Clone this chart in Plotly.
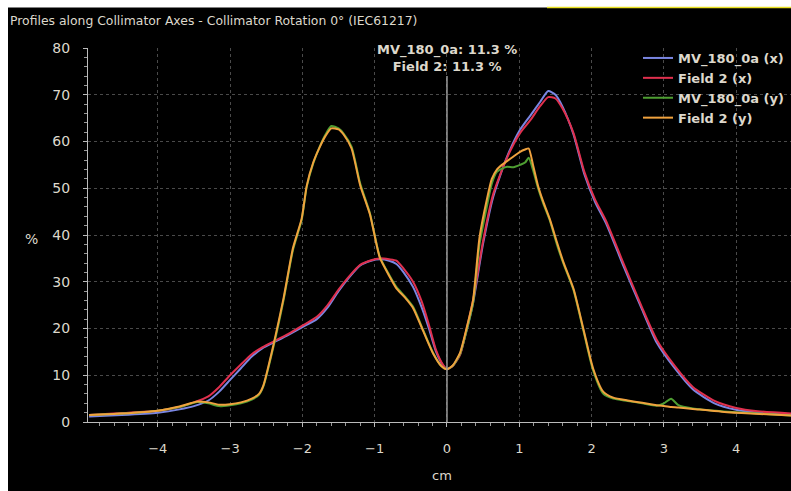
import plotly.graph_objects as go

# ---- data ----
x_mv_x = [-4.95, -4.5, -4.0, -3.7, -3.5, -3.3, -3.15, -3.0, -2.85, -2.7, -2.55, -2.4, -2.2, -2.0, -1.8,
          -1.65, -1.5, -1.35, -1.2, -1.05, -0.93, -0.8, -0.7, -0.6, -0.47, -0.35, -0.25, -0.15, -0.05, 0.0,
          0.08, 0.18, 0.27, 0.36, 0.5, 0.64, 0.83, 1.01, 1.15, 1.29, 1.4, 1.5, 1.6, 1.75, 1.9, 2.05, 2.2,
          2.45, 2.7, 2.9, 3.15, 3.4, 3.7, 4.0, 4.3, 4.76]
y_mv_x = [1.2, 1.5, 2.0, 2.7, 3.4, 4.6, 6.5, 9.0, 11.5, 14.0, 15.8, 17.0, 18.6, 20.3, 22.0,
          24.5, 28.0, 31.0, 33.5, 34.5, 34.8, 34.5, 33.8, 32.0, 28.9, 24.5, 20.0, 15.0, 12.0, 11.3,
          12.0, 14.5, 19.5, 25.4, 38.2, 48.2, 56.7, 62.5, 65.5, 68.5, 70.8, 70.0, 67.4, 61.5, 53.0, 47.0, 42.5,
          33.0, 24.0, 17.0, 11.5, 7.0, 4.0, 2.6, 2.0, 1.6]

x_f2_x = x_mv_x
y_f2_x = [1.5, 1.9, 2.4, 3.2, 4.2, 5.5, 7.5, 10.0, 12.3, 14.5, 16.0, 17.2, 18.8, 20.6, 22.5,
          25.0, 28.3, 31.2, 33.6, 34.6, 35.0, 34.8, 34.5, 32.8, 30.0, 25.8, 20.8, 15.3, 12.1, 11.3,
          12.0, 14.3, 19.8, 26.0, 38.8, 48.8, 56.5, 61.8, 64.5, 67.6, 69.5, 69.2, 67.0, 61.8, 53.5, 47.5, 43.0,
          33.6, 24.4, 17.6, 12.0, 7.5, 4.5, 3.0, 2.3, 1.8]

x_mv_y = [-4.95, -4.5, -4.0, -3.7, -3.45, -3.3, -3.15, -3.0, -2.85, -2.7, -2.6, -2.54, -2.4, -2.26, -2.13,
          -2.01, -1.94, -1.85, -1.76, -1.68, -1.6, -1.5, -1.43, -1.32, -1.2, -1.065, -0.93, -0.8, -0.7,
          -0.58, -0.47, -0.33, -0.19, -0.08, 0.0, 0.08, 0.18, 0.27, 0.36, 0.45, 0.55, 0.62, 0.69, 0.76,
          0.83, 0.92, 1.01, 1.08, 1.13, 1.19, 1.26, 1.33, 1.42, 1.52, 1.61, 1.75, 1.885, 2.02, 2.16,
          2.3, 2.5, 2.7, 2.9, 3.0, 3.1, 3.2, 3.4, 3.8, 4.2, 4.76]
y_mv_y = [1.5, 1.8, 2.4, 3.2, 4.3, 4.0, 3.4, 3.6, 4.0, 4.8, 5.8, 7.6, 16.1, 26.1, 36.8,
          43.2, 50.3, 55.3, 58.9, 61.5, 63.3, 62.8, 61.7, 58.9, 51.0, 44.6, 35.4, 31.5, 28.9,
          26.8, 24.7, 19.7, 14.7, 12.0, 11.3, 12.0, 14.5, 19.5, 25.4, 38.0, 46.0, 51.0, 53.5, 54.2,
          54.6, 54.5, 55.0, 55.5, 56.5, 53.9, 50.0, 46.8, 43.2, 38.0, 33.9, 28.2, 19.7, 11.1, 6.1,
          5.0, 4.5, 4.0, 3.5, 4.0, 5.0, 3.6, 2.9, 2.3, 1.9, 1.4]

x_f2_y = x_mv_y
y_f2_y = [1.5, 1.8, 2.4, 3.3, 4.4, 4.2, 3.7, 3.8, 4.2, 5.0, 6.0, 7.8, 16.5, 26.5, 37.2,
          43.5, 50.5, 55.5, 58.8, 61.2, 62.8, 62.6, 61.5, 58.5, 50.6, 44.4, 35.2, 31.3, 28.6,
          26.6, 24.4, 19.5, 14.6, 12.0, 11.3, 12.1, 14.8, 20.0, 26.0, 39.5, 47.5, 52.0, 54.0, 55.0,
          55.8, 56.8, 57.8, 58.3, 58.5, 55.0, 50.5, 47.2, 43.5, 38.5, 34.2, 28.5, 20.0, 11.5, 6.5,
          5.2, 4.6, 4.1, 3.6, 3.4, 3.2, 3.1, 2.8, 2.2, 1.8, 1.4]

series_names = ["MV_180_0a (x)", "Field 2 (x)", "MV_180_0a (y)", "Field 2 (y)"]
series_colors = ["#7a86e2", "#e0304e", "#4e9e32", "#f0a23e"]
x_ticks = [-4, -3, -2, -1, 0, 1, 2, 3, 4]
y_ticks = [0, 10, 20, 30, 40, 50, 60, 70, 80]
title_text = "Profiles along Collimator Axes - Collimator Rotation 0° (IEC61217)"
center_label = "MV_180_0a: 11.3 %<br>Field 2: 11.3 %"
x_label = "cm"
y_label = "%"

FONT = "DejaVu Sans"
TXT = "#ddd8cc"

fig = go.Figure()
for xs, ys, name, col in zip([x_mv_x, x_f2_x, x_mv_y, x_f2_y],
                             [y_mv_x, y_f2_x, y_mv_y, y_f2_y],
                             series_names, series_colors):
    fig.add_trace(go.Scatter(x=xs, y=ys, name=name, mode="lines",
                             line=dict(color=col, width=2, shape="spline", smoothing=0.6)))

W, H = 791, 491
L, R, T, B = 88, 0, 48, 69
pw, ph = W - L - R, H - T - B

def px(xp):
    return (xp - L) / pw

def py(yp):
    return 1 - (yp - T) / ph

x_minor = [round(-4.8 + 0.2 * i, 2) for i in range(48)]
y_minor = [2 * i for i in range(41)]

fig.update_layout(
    width=W, height=H,
    margin=dict(l=L, r=R, t=T, b=B, pad=0),
    paper_bgcolor="black", plot_bgcolor="black",
    font=dict(family=FONT, color=TXT, size=13),
    showlegend=True,
    legend=dict(x=px(638), y=py(43), xanchor="left", yanchor="top",
                bgcolor="rgba(0,0,0,0)", font=dict(size=13, color=TXT, weight="bold"),
                tracegroupgap=0, itemwidth=30),
    xaxis=dict(range=[-4.965, 4.758], tickmode="array", tickvals=x_ticks, showline=True,
               linecolor="#bbbbbb", linewidth=1, ticks="outside", ticklen=4, tickcolor="#bbbbbb",
               showgrid=True, gridcolor="#4a4a4a", griddash="dot", gridwidth=1,
               zeroline=False, ticklabelstandoff=10,
               minor=dict(tickmode="array", tickvals=x_minor, ticks="outside", ticklen=3,
                          tickcolor="#999999", showgrid=False),
               tickfont=dict(size=13, color=TXT)),
    yaxis=dict(range=[0, 80], tickmode="array", tickvals=y_ticks, showline=True,
               linecolor="#bbbbbb", linewidth=1, ticks="outside", ticklen=4, tickcolor="#bbbbbb",
               showgrid=True, gridcolor="#4a4a4a", griddash="dot", gridwidth=1,
               zeroline=False, ticklabelstandoff=10,
               minor=dict(tickmode="array", tickvals=y_minor, ticks="outside", ticklen=3,
                          tickcolor="#999999", showgrid=False),
               tickfont=dict(size=14, color=TXT)),
)

# axis labels
fig.add_annotation(xref="paper", yref="paper", x=px(442), y=py(476), text=x_label,
                   showarrow=False, xanchor="center", yanchor="middle",
                   font=dict(size=13, color=TXT, family=FONT))
fig.add_annotation(xref="paper", yref="paper", x=px(31), y=py(239), text=y_label,
                   showarrow=False, xanchor="center", yanchor="middle",
                   font=dict(size=14, color=TXT, family=FONT))

# vertical center line at x = 0
fig.add_shape(type="line", xref="x", yref="y", x0=0, x1=0, y0=0, y1=74,
              line=dict(color="#9a9a9a", width=1.5))

# center annotation
fig.add_annotation(xref="x", yref="paper", x=0, y=py(57.5), text=center_label,
                   showarrow=False, xanchor="center", yanchor="middle", align="center",
                   font=dict(size=13, color=TXT, family=FONT, weight="bold"))

# title
fig.add_annotation(xref="paper", yref="paper", x=px(8), y=py(20.5), text=title_text,
                   showarrow=False, xanchor="left", yanchor="middle",
                   font=dict(size=12.4, color=TXT, family=FONT))

# white frame strips and yellow accent line
fig.add_shape(type="rect", xref="paper", yref="paper", x0=px(0), x1=px(W), y0=py(7.5), y1=py(0),
              fillcolor="white", line=dict(width=0), layer="above")
fig.add_shape(type="rect", xref="paper", yref="paper", x0=px(0), x1=px(8), y0=py(H), y1=py(0),
              fillcolor="white", line=dict(width=0), layer="above")
fig.add_shape(type="line", xref="paper", yref="paper", x0=px(547), x1=px(W), y0=py(7.5), y1=py(7.5),
              line=dict(color="#e8e020", width=1.5), layer="above")

fig.write_html("out.html")
